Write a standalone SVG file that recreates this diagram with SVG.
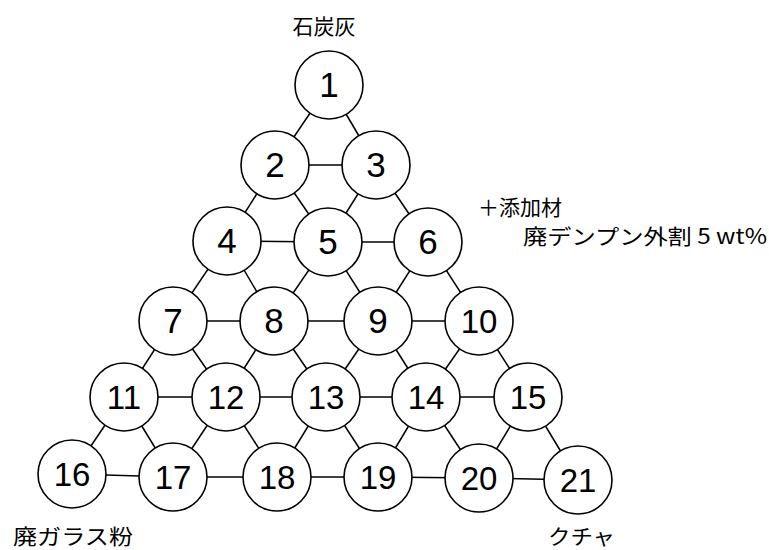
<svg xmlns="http://www.w3.org/2000/svg" width="769" height="550" viewBox="0 0 769 550">
<style>
.n circle{fill:#fff;stroke:#000;stroke-width:1.6}
.n text{font-family:"Liberation Sans",Arial,sans-serif;font-size:33px;text-anchor:middle;fill:#000}
.n text.s{font-size:35px}
.e line{stroke:#000;stroke-width:1.5}
.lbl{font-family:"Noto Sans CJK JP","Noto Sans CJK SC",sans-serif;font-size:21px;fill:#000}
</style>
<rect width="769" height="550" fill="#fff"/>
<g class="e" id="connectors">
<line x1="329" y1="85" x2="275" y2="165"/><line x1="329" y1="85" x2="376" y2="165"/>
<line x1="275" y1="165" x2="376" y2="165"/>
<line x1="275" y1="165" x2="227" y2="241"/><line x1="275" y1="165" x2="328" y2="242"/>
<line x1="376" y1="165" x2="328" y2="242"/><line x1="376" y1="165" x2="428" y2="242"/>
<line x1="227" y1="241" x2="328" y2="242"/><line x1="328" y1="242" x2="428" y2="242"/>
<line x1="227" y1="241" x2="173" y2="321"/><line x1="227" y1="241" x2="274" y2="321"/>
<line x1="328" y1="242" x2="274" y2="321"/><line x1="328" y1="242" x2="378" y2="321"/>
<line x1="428" y1="242" x2="378" y2="321"/><line x1="428" y1="242" x2="479" y2="321"/>
<line x1="173" y1="321" x2="274" y2="321"/><line x1="274" y1="321" x2="378" y2="321"/><line x1="378" y1="321" x2="479" y2="321"/>
<line x1="173" y1="321" x2="124" y2="397"/><line x1="173" y1="321" x2="226" y2="397"/>
<line x1="274" y1="321" x2="226" y2="397"/><line x1="274" y1="321" x2="326" y2="397"/>
<line x1="378" y1="321" x2="326" y2="397"/><line x1="378" y1="321" x2="426" y2="397"/>
<line x1="479" y1="321" x2="426" y2="397"/><line x1="479" y1="321" x2="528" y2="397"/>
<line x1="124" y1="397" x2="226" y2="397"/><line x1="226" y1="397" x2="326" y2="397"/><line x1="326" y1="397" x2="426" y2="397"/><line x1="426" y1="397" x2="528" y2="397"/>
<line x1="124" y1="397" x2="72" y2="474"/><line x1="124" y1="397" x2="173" y2="477"/>
<line x1="226" y1="397" x2="173" y2="477"/><line x1="226" y1="397" x2="277" y2="477"/>
<line x1="326" y1="397" x2="277" y2="477"/><line x1="326" y1="397" x2="378" y2="477"/>
<line x1="426" y1="397" x2="378" y2="477"/><line x1="426" y1="397" x2="479" y2="478"/>
<line x1="528" y1="397" x2="479" y2="478"/><line x1="528" y1="397" x2="578" y2="480"/>
<line x1="72" y1="474" x2="173" y2="477"/><line x1="173" y1="477" x2="277" y2="477"/><line x1="277" y1="477" x2="378" y2="477"/><line x1="378" y1="477" x2="479" y2="478"/><line x1="479" y1="478" x2="578" y2="480"/>
</g>
<g class="n" id="n1"><circle cx="329" cy="85" r="34"/><text class="s" x="329" y="97">1</text></g>
<g class="n" id="n2"><circle cx="275" cy="165" r="34"/><text class="s" x="275" y="177">2</text></g>
<g class="n" id="n3"><circle cx="376" cy="165" r="34"/><text class="s" x="376" y="177">3</text></g>
<g class="n" id="n4"><circle cx="227" cy="241" r="34"/><text class="s" x="227" y="253">4</text></g>
<g class="n" id="n5"><circle cx="328" cy="242" r="34"/><text class="s" x="328" y="254">5</text></g>
<g class="n" id="n6"><circle cx="428" cy="242" r="34"/><text class="s" x="428" y="254">6</text></g>
<g class="n" id="n7"><circle cx="173" cy="321" r="34"/><text class="s" x="173" y="333">7</text></g>
<g class="n" id="n8"><circle cx="274" cy="321" r="34"/><text class="s" x="274" y="333">8</text></g>
<g class="n" id="n9"><circle cx="378" cy="321" r="34"/><text class="s" x="378" y="333">9</text></g>
<g class="n" id="n10"><circle cx="479" cy="321" r="34"/><text x="479" y="333">10</text></g>
<g class="n" id="n11"><circle cx="124" cy="397" r="34"/><text x="124" y="409">11</text></g>
<g class="n" id="n12"><circle cx="226" cy="397" r="34"/><text x="226" y="409">12</text></g>
<g class="n" id="n13"><circle cx="326" cy="397" r="34"/><text x="326" y="409">13</text></g>
<g class="n" id="n14"><circle cx="426" cy="397" r="34"/><text x="426" y="409">14</text></g>
<g class="n" id="n15"><circle cx="528" cy="397" r="34"/><text x="528" y="409">15</text></g>
<g class="n" id="n16"><circle cx="72" cy="474" r="34"/><text x="72" y="486">16</text></g>
<g class="n" id="n17"><circle cx="173" cy="477" r="34"/><text x="173" y="489">17</text></g>
<g class="n" id="n18"><circle cx="277" cy="477" r="34"/><text x="277" y="489">18</text></g>
<g class="n" id="n19"><circle cx="378" cy="477" r="34"/><text x="378" y="489">19</text></g>
<g class="n" id="n20"><circle cx="479" cy="478" r="34"/><text x="479" y="490">20</text></g>
<g class="n" id="n21"><circle cx="578" cy="480" r="34"/><text x="578" y="492">21</text></g>
<g id="labels">
<text class="lbl" x="324" y="34" text-anchor="middle">石炭灰</text>
<text class="lbl" x="478" y="215">＋添加材</text>
<text class="lbl" x="523" y="244" textLength="244" lengthAdjust="spacingAndGlyphs">廃デンプン外割 5 wt%</text>
<text class="lbl" x="13" y="544" textLength="120" lengthAdjust="spacingAndGlyphs">廃ガラス粉</text>
<text class="lbl" x="548" y="544" textLength="67" lengthAdjust="spacingAndGlyphs">クチャ</text>
</g>
</svg>
